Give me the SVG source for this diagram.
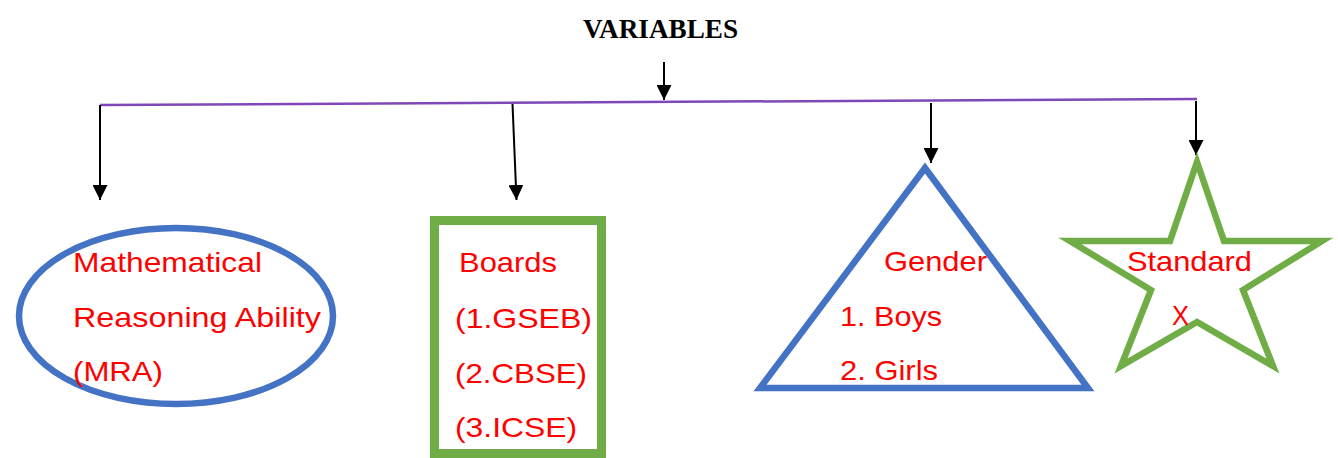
<svg xmlns="http://www.w3.org/2000/svg" width="1338" height="458" viewBox="0 0 1338 458">
  <style>
    .t { font-family: "Liberation Sans", Arial, sans-serif; font-size: 28px; fill: #FF0000; }
    .title { font-family: "Liberation Serif", "Times New Roman", serif; font-size: 28px; font-weight: bold; fill: #000000; }
    .conn { stroke: #000000; stroke-width: 2; fill: none; }
    .bus { stroke: #7F48B8; stroke-width: 2.5; fill: none; }
    .blue { stroke: #4472C4; stroke-width: 6.5; fill: #FFFFFF; }
    .green { stroke: #70AD47; fill: #FFFFFF; }
  </style>
  <defs>
    <marker id="ah" viewBox="0 0 10 10" refX="10" refY="5" markerWidth="15" markerHeight="15" markerUnits="userSpaceOnUse" orient="auto">
      <path d="M0,0 L10,5 L0,10 z" fill="#000000"/>
    </marker>
  </defs>
  <rect width="1338" height="458" fill="#FFFFFF"/>

  <g id="title">
    <text class="title" x="583" y="38" textLength="155" lengthAdjust="spacingAndGlyphs">VARIABLES</text>
  </g>

  <g id="connectors">
    <line class="conn" x1="664" y1="62" x2="664" y2="100" marker-end="url(#ah)"/>
    <line class="bus" x1="100" y1="105" x2="1197" y2="99"/>
    <line class="conn" x1="100" y1="105" x2="100" y2="200" marker-end="url(#ah)"/>
    <line class="conn" x1="512.5" y1="104" x2="516.5" y2="200" marker-end="url(#ah)"/>
    <line class="conn" x1="931" y1="103" x2="931" y2="163" marker-end="url(#ah)"/>
    <line class="conn" x1="1196" y1="101" x2="1196" y2="155" marker-end="url(#ah)"/>
  </g>

  <g id="node-mra">
    <ellipse class="blue" cx="176" cy="316" rx="157" ry="88" stroke-width="5.5"/>
    <text class="t" x="73" y="272" textLength="189" lengthAdjust="spacingAndGlyphs">Mathematical</text>
    <text class="t" x="73" y="327" textLength="248" lengthAdjust="spacingAndGlyphs">Reasoning Ability</text>
    <text class="t" x="73" y="381" textLength="90" lengthAdjust="spacingAndGlyphs">(MRA)</text>
  </g>

  <g id="node-boards">
    <rect class="green" x="434.5" y="220.5" width="167" height="233" stroke-width="9"/>
    <text class="t" x="459" y="272" textLength="98" lengthAdjust="spacingAndGlyphs">Boards</text>
    <text class="t" x="455" y="328" textLength="137" lengthAdjust="spacingAndGlyphs">(1.GSEB)</text>
    <text class="t" x="455" y="383" textLength="132" lengthAdjust="spacingAndGlyphs">(2.CBSE)</text>
    <text class="t" x="455" y="437" textLength="122" lengthAdjust="spacingAndGlyphs">(3.ICSE)</text>
  </g>

  <g id="node-gender">
    <polygon class="blue" points="925,168 1088,388 760,388"/>
    <text class="t" x="884" y="271" textLength="103" lengthAdjust="spacingAndGlyphs">Gender</text>
    <text class="t" x="840" y="326" textLength="102" lengthAdjust="spacingAndGlyphs">1. Boys</text>
    <text class="t" x="840" y="380" textLength="98" lengthAdjust="spacingAndGlyphs">2. Girls</text>
  </g>

  <g id="node-standard">
    <polygon class="green" stroke-width="6.5" points="1197,162 1224,241 1322,241 1243,290 1273,366 1197,322 1121,366 1151,290 1070,241 1170,241"/>
    <text class="t" x="1127" y="271" textLength="125" lengthAdjust="spacingAndGlyphs">Standard</text>
    <text class="t" x="1172" y="325" font-size="25" textLength="17" lengthAdjust="spacingAndGlyphs">X</text>
  </g>
</svg>
